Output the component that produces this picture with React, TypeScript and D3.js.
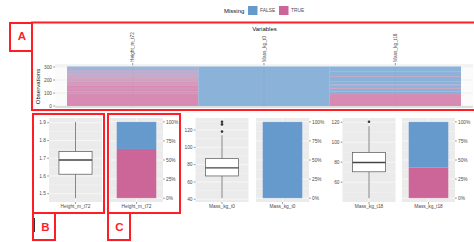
import React from "react";
import * as d3 from "d3";

const variables = ["Height_m_t72", "Mass_kg_t0", "Mass_kg_t18"];
const nObs = 304;

// missing rows [from, to) per variable, counted from the bottom of the heatmap
const missingHeight = [
  [0, 92], [99, 107], [114, 123], [131, 138], [146, 155], [163, 170], [178, 187],
  [195, 202], [210, 219], [227, 234], [242, 251], [259, 266], [274, 283], [291, 298],
];
const missingMassT0: number[][] = [];
const missingMassT18 = [[0, 92], [108, 113], [134, 139], [160, 165], [185, 190], [223, 228], [262, 267]];
const missingRuns = [missingHeight, missingMassT0, missingMassT18];

// boxplot summaries: lower whisker, q1, median, q3, upper whisker
const boxHeight = [1.475, 1.61, 1.69, 1.738, 1.905];
const boxMassT0 = [41.2, 66.9, 76.3, 86.9, 114];
const boxMassT18 = [44, 70.4, 79.7, 89.6, 116.1];
const outHeight: number[] = [];
const outMassT0 = [118.2, 126.5, 129.5];
const outMassT18 = [120.4];

const heatTicks = [0, 100, 200, 300];
const pctTicks = [0, 0.25, 0.5, 0.75, 1];
const pctLabels = ["0%", "25%", "50%", "75%", "100%"];
const legendKeys = ["FALSE", "TRUE"];

const BLUE = "#6699CC";
const PINK = "#CC6699";
const RED = "#FF1E26";
const font = "Liberation Sans, Arial, sans-serif";
const tickCol = "#4D4D4D";

const pTop = 118, pBottom = 202, pW = 53;

// split a column into FALSE / TRUE segments
const segments = (runs: number[][]) => {
  const out: { a: number; b: number; miss: boolean }[] = [];
  let cur = 0;
  runs.forEach(([a, b]) => {
    if (a > cur) out.push({ a: cur, b: a, miss: false });
    out.push({ a, b, miss: true });
    cur = b;
  });
  if (cur < nObs) out.push({ a: cur, b: nObs, miss: false });
  return out;
};

const missFrac = (runs: number[][]) => d3.sum(runs, (r) => r[1] - r[0]) / nObs;

const minorOf = (ticks: number[], dom: number[]) => {
  const step = ticks[1] - ticks[0];
  const m = [ticks[0] - step / 2, ...ticks.map((t) => t + step / 2)];
  return m.filter((v) => v > dom[0] && v < dom[1]);
};

const XLabel = ({ cx, label }: { cx: number; label: string }) => (
  <g>
    <line x1={cx} x2={cx} y1={pBottom} y2={pBottom + 1.8} stroke="#333" strokeWidth={0.5} />
    <text x={cx} y={207.5} textAnchor="middle" fontSize={4.8} fill={tickCol} fontFamily={font}>{label}</text>
  </g>
);

const BoxPanel = ({ x0, stats, outliers, label }: { x0: number; stats: number[]; outliers: number[]; label: string }) => {
  const lo = Math.min(stats[0], ...outliers);
  const hi = Math.max(stats[4], ...outliers);
  const pad = (hi - lo) * 0.05;
  const y = d3.scaleLinear().domain([lo - pad, hi + pad]).range([pBottom, pTop]);
  const x = d3.scaleLinear().domain([0.4, 1.6]).range([x0, x0 + pW]);
  const ticks = y.ticks(5);
  const minor = minorOf(ticks, y.domain());
  const cx = x(1);
  return (
    <g>
      <rect x={x0} y={pTop} width={pW} height={pBottom - pTop} fill="#EBEBEB" />
      {minor.map((v) => (
        <line key={"m" + v} x1={x0} x2={x0 + pW} y1={y(v)} y2={y(v)} stroke="#fff" strokeWidth={0.3} />
      ))}
      {ticks.map((v) => (
        <line key={v} x1={x0} x2={x0 + pW} y1={y(v)} y2={y(v)} stroke="#fff" strokeWidth={0.6} />
      ))}
      <line x1={cx} x2={cx} y1={pTop} y2={pBottom} stroke="#fff" strokeWidth={0.6} />
      {ticks.map((v) => (
        <g key={"t" + v}>
          <line x1={x0 - 1.8} x2={x0} y1={y(v)} y2={y(v)} stroke="#333" strokeWidth={0.5} />
          <text x={x0 - 3} y={y(v) + 1.7} textAnchor="end" fontSize={4.8} fill={tickCol} fontFamily={font}>
            {d3.format("~g")(v)}
          </text>
        </g>
      ))}
      <line x1={cx} x2={cx} y1={y(stats[0])} y2={y(stats[1])} stroke="#555" strokeWidth={0.7} />
      <line x1={cx} x2={cx} y1={y(stats[3])} y2={y(stats[4])} stroke="#555" strokeWidth={0.7} />
      <rect x={x(0.625)} y={y(stats[3])} width={x(1.375) - x(0.625)} height={y(stats[1]) - y(stats[3])}
        fill="#fff" stroke="#555" strokeWidth={0.7} />
      <line x1={x(0.625)} x2={x(1.375)} y1={y(stats[2])} y2={y(stats[2])} stroke="#444" strokeWidth={1.3} />
      {outliers.map((v) => (
        <circle key={v} cx={cx} cy={y(v)} r={1.3} fill="#333" />
      ))}
      <XLabel cx={cx} label={label} />
    </g>
  );
};

const BarPanel = ({ x0, frac, label }: { x0: number; frac: number; label: string }) => {
  const y = d3.scaleLinear().domain([-0.05, 1.05]).range([pBottom, pTop]);
  const x = d3.scaleLinear().domain([0.4, 1.6]).range([x0, x0 + pW]);
  const minor = minorOf(pctTicks, y.domain());
  const cx = x(1);
  return (
    <g>
      <rect x={x0} y={pTop} width={pW} height={pBottom - pTop} fill="#EBEBEB" />
      {minor.map((v) => (
        <line key={"m" + v} x1={x0} x2={x0 + pW} y1={y(v)} y2={y(v)} stroke="#fff" strokeWidth={0.3} />
      ))}
      {pctTicks.map((v) => (
        <line key={v} x1={x0} x2={x0 + pW} y1={y(v)} y2={y(v)} stroke="#fff" strokeWidth={0.6} />
      ))}
      <line x1={cx} x2={cx} y1={pTop} y2={pBottom} stroke="#fff" strokeWidth={0.6} />
      <rect x={x(0.55)} y={y(frac)} width={x(1.45) - x(0.55)} height={y(0) - y(frac)} fill={PINK} />
      <rect x={x(0.55)} y={y(1)} width={x(1.45) - x(0.55)} height={y(frac) - y(1)} fill={BLUE} />
      <rect x={x(0.55)} y={y(1)} width={x(1.45) - x(0.55)} height={y(0) - y(1)} fill="none"
        stroke="#fff" strokeOpacity={0.35} strokeWidth={0.6} />
      {pctTicks.map((v, i) => (
        <g key={"t" + v}>
          <line x1={x0 + pW} x2={x0 + pW + 1.8} y1={y(v)} y2={y(v)} stroke="#333" strokeWidth={0.5} />
          <text x={x0 + pW + 3} y={y(v) + 1.7} fontSize={4.8} fill={tickCol} fontFamily={font}>{pctLabels[i]}</text>
        </g>
      ))}
      <XLabel cx={cx} label={label} />
    </g>
  );
};

const Heatmap = () => {
  const px0 = 55, px1 = 473, pt = 65, pb = 108;
  const x = d3.scaleBand().domain(variables).range([67, 461]);
  const y = d3.scaleLinear().domain([0, 300]).range([106, 67]);
  return (
    <g fontFamily={font}>
      <rect x={px0} y={pt} width={px1 - px0} height={pb - pt} fill="#FBFBFB" />
      <line x1={px0} x2={px1} y1={pt} y2={pt} stroke="#DADADA" strokeWidth={0.6} />
      <rect x={px0} y={pb - 2} width={px1 - px0} height={2} fill="#DDDDDD" />
      {heatTicks.map((t) => (
        <line key={t} x1={px0} x2={px1} y1={y(t)} y2={y(t)} stroke="#E2E2E2" strokeWidth={0.5} />
      ))}
      {variables.map((v, i) =>
        segments(missingRuns[i]).map((s, j) => (
          <rect key={v + j} x={x(v)} width={x.bandwidth()} y={y(s.b)} height={y(s.a) - y(s.b)}
            fill={s.miss ? PINK : BLUE} fillOpacity={0.75} />
        ))
      )}
      {variables.map((v) => {
        const cx = (x(v) as number) + x.bandwidth() / 2;
        return (
          <g key={v}>
            <line x1={cx} x2={cx} y1={pt} y2={pb} stroke="#999" strokeOpacity={0.25} strokeWidth={0.5} />
            <line x1={cx} x2={cx} y1={pt - 2} y2={pt} stroke="#333" strokeWidth={0.5} />
            <text transform={`translate(${cx + 1.7},${pt - 3}) rotate(-90)`} fontSize={4.8} fill={tickCol}>{v}</text>
          </g>
        );
      })}
      {heatTicks.map((t) => (
        <g key={"t" + t}>
          <line x1={px0 - 1.8} x2={px0} y1={y(t)} y2={y(t)} stroke="#333" strokeWidth={0.5} />
          <text x={px0 - 3} y={y(t) + 1.7} textAnchor="end" fontSize={4.8} fill={tickCol}>{t}</text>
        </g>
      ))}
      <text transform={`translate(40,86.5) rotate(-90)`} textAnchor="middle" fontSize={6} fill="#111">Observations</text>
      <text x={264.5} y={30.5} textAnchor="middle" fontSize={6} fill="#111">Variables</text>
    </g>
  );
};

const Legend = () => (
  <g fontFamily={font}>
    <text x={224} y={12.5} fontSize={6} fill="#111">Missing</text>
    {legendKeys.map((k, i) => (
      <g key={k} transform={`translate(${248 + i * 31},0)`}>
        <rect x={0} y={6} width={9.5} height={9} fill={i === 0 ? BLUE : PINK} />
        <text x={12} y={12.3} fontSize={4.9} fill={tickCol}>{k}</text>
      </g>
    ))}
  </g>
);

const Annotations = () => (
  <g fill="none" stroke={RED} strokeWidth={2}>
    <rect x={10} y={23} width={22} height={28} />
    <rect x={32} y={22.5} width={460} height={87.5} />
    <rect x={33} y={114} width={71} height={99} />
    <rect x={108} y={114} width={72} height={99} />
    <rect x={33} y={213} width={22} height={27} />
    <rect x={108} y={213} width={22} height={27} />
    <line x1={34.5} x2={34.5} y1={218} y2={232} stroke="#333" strokeWidth={1} />
    <g stroke="none" fill={RED} fontFamily={font} fontWeight="bold" fontSize={11.5} textAnchor="middle">
      <text x={22} y={39.5}>A</text>
      <text x={45.5} y={230.5}>B</text>
      <text x={119.5} y={230.5}>C</text>
    </g>
  </g>
);

export default function App() {
  return (
    <svg width={474} height={242} style={{ position: "absolute", left: 0, top: 0, background: "#fff" }}>
      <Legend />
      <Heatmap />
      <BoxPanel x0={49} stats={boxHeight} outliers={outHeight} label="Height_m_t72" />
      <BarPanel x0={110} frac={missFrac(missingHeight)} label="Height_m_t72" />
      <BoxPanel x0={195.5} stats={boxMassT0} outliers={outMassT0} label="Mass_kg_t0" />
      <BarPanel x0={256} frac={missFrac(missingMassT0)} label="Mass_kg_t0" />
      <BoxPanel x0={342.5} stats={boxMassT18} outliers={outMassT18} label="Mass_kg_t18" />
      <BarPanel x0={402} frac={missFrac(missingMassT18)} label="Mass_kg_t18" />
      <Annotations />
    </svg>
  );
}
